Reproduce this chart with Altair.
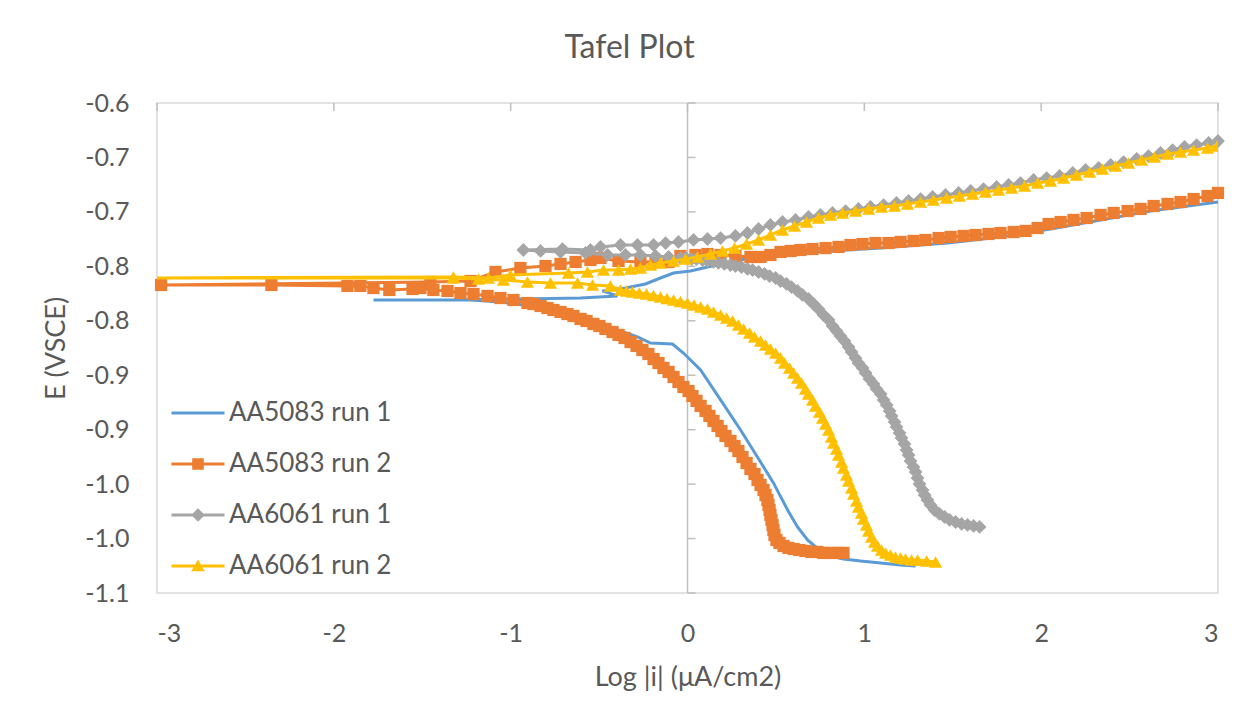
import altair as alt
import pandas as pd

FONT = "Lato"
TXT = "#595959"

SERIES = ["AA5083 run 1", "AA5083 run 2", "AA6061 run 1", "AA6061 run 2"]
COLORS = ["#5B9BD5", "#ED7D31", "#A5A5A5", "#FFC000"]

# ---- AA5083 run 1 (scan order: cathodic end -> Ecorr -> anodic end)
blue_x = [1.290, 1.205, 1.092, 0.979, 0.882, 0.809, 0.752, 0.679, 0.622, 0.566, 0.486, 0.413,
          0.300, 0.187, 0.074, -0.023, -0.085, -0.209, -0.283, -0.379, -0.492, -0.605, -0.718,
          -0.888, -1.058, -1.227, -1.510, -1.776,
          -1.340, -0.945, -0.605, -0.396, -0.481, -0.351, -0.238, -0.153, -0.079, 0.017, 0.187,
          0.356, 0.583, 0.809, 1.092, 1.471, 1.770, 2.053, 2.336, 2.619, 3.0]
blue_e = [-1.0252, -1.0243, -1.0224, -1.0206, -1.0187, -1.0160, -1.0114, -1.0013, -0.9893, -0.9737,
          -0.9489, -0.9297, -0.9003, -0.8727, -0.8452, -0.8296, -0.8213, -0.8204, -0.8149, -0.8094,
          -0.8039, -0.7974, -0.7928, -0.7864, -0.7827, -0.7809, -0.7809, -0.7809,
          -0.7809, -0.7800, -0.7791, -0.7772, -0.7726, -0.7699, -0.7662, -0.7607, -0.7561, -0.7543,
          -0.7478, -0.7423, -0.7387, -0.7359, -0.7332, -0.7286, -0.7230, -0.7157, -0.7074, -0.6992,
          -0.6909]

# ---- AA5083 run 2
orange_x = [0.882, 0.848, 0.809, 0.769, 0.735, 0.701, 0.667, 0.633, 0.600, 0.571, 0.543, 0.520,
            0.503, 0.492, 0.486, 0.481, 0.475, 0.469, 0.464, 0.458, 0.452, 0.441, 0.430, 0.413,
            0.396, 0.379, 0.356, 0.334, 0.311, 0.288, 0.266, 0.243, 0.215, 0.192, 0.170, 0.147,
            0.124, 0.102, 0.074, 0.051, 0.028, 0.006, -0.023, -0.051, -0.079, -0.107, -0.136,
            -0.164, -0.192, -0.221, -0.255, -0.288, -0.322, -0.356, -0.390, -0.424, -0.464,
            -0.498, -0.532, -0.571, -0.605, -0.645, -0.679, -0.718, -0.758, -0.792, -0.831,
            -0.871, -0.905, -0.984, -1.058, -1.131, -1.210, -1.284, -1.357, -1.437, -1.510,
            -1.555, -1.686, -1.776, -1.850, -1.923, -2.353, -2.977,
            -1.454, -1.227, -1.086, -0.945, -0.803, -0.718, -0.633, -0.549, -0.492, -0.390, -0.266,
            -0.181, -0.107, -0.040, 0.045, 0.113, 0.187, 0.271, 0.356, 0.413, 0.469, 0.526, 0.583,
            0.639, 0.707, 0.781, 0.854, 0.922, 0.990, 1.063, 1.137, 1.205, 1.278, 1.346, 1.420,
            1.488, 1.561, 1.629, 1.702, 1.770, 1.844, 1.912, 1.980, 2.042, 2.110, 2.183, 2.257,
            2.336, 2.410, 2.489, 2.562, 2.636, 2.715, 2.788, 2.862, 2.941, 3.0]
orange_e = [-1.0132, -1.0132, -1.0132, -1.0132, -1.0123, -1.0123, -1.0114, -1.0105, -1.0096,
            -1.0086, -1.0068, -1.0040, -1.0013, -0.9967, -0.9921, -0.9875, -0.9829, -0.9783,
            -0.9737, -0.9691, -0.9646, -0.9600, -0.9554, -0.9508, -0.9462, -0.9407, -0.9361,
            -0.9306, -0.9251, -0.9196, -0.9150, -0.9104, -0.9058, -0.9012, -0.8966, -0.8920,
            -0.8874, -0.8828, -0.8782, -0.8736, -0.8691, -0.8645, -0.8608, -0.8562, -0.8516,
            -0.8470, -0.8433, -0.8388, -0.8351, -0.8305, -0.8268, -0.8231, -0.8195, -0.8158,
            -0.8130, -0.8103, -0.8075, -0.8048, -0.8029, -0.8002, -0.7983, -0.7956, -0.7938,
            -0.7919, -0.7901, -0.7883, -0.7864, -0.7846, -0.7837, -0.7809, -0.7791, -0.7772,
            -0.7754, -0.7745, -0.7726, -0.7717, -0.7699, -0.7708, -0.7717, -0.7699, -0.7680,
            -0.7680, -0.7671, -0.7671,
            -0.7644, -0.7635, -0.7552, -0.7515, -0.7497, -0.7478, -0.7460, -0.7442, -0.7423,
            -0.7451, -0.7460, -0.7460, -0.7460, -0.7405, -0.7396, -0.7387, -0.7396, -0.7405,
            -0.7414, -0.7414, -0.7396, -0.7368, -0.7359, -0.7350, -0.7341, -0.7332, -0.7322,
            -0.7304, -0.7295, -0.7286, -0.7286, -0.7276, -0.7267, -0.7258, -0.7240, -0.7230,
            -0.7221, -0.7212, -0.7203, -0.7194, -0.7185, -0.7175, -0.7148, -0.7111, -0.7093,
            -0.7074, -0.7056, -0.7028, -0.7010, -0.6992, -0.6973, -0.6946, -0.6927, -0.6909,
            -0.6882, -0.6854, -0.6826]

# ---- AA6061 run 1
gray_x = [1.652, 1.618, 1.584, 1.550, 1.516, 1.482, 1.454, 1.425, 1.397, 1.374, 1.357, 1.341,
          1.329, 1.312, 1.301, 1.290, 1.278, 1.261, 1.250, 1.239, 1.227, 1.210, 1.199, 1.182,
          1.171, 1.154, 1.143, 1.126, 1.109, 1.092, 1.069, 1.052, 1.029, 1.007, 0.990, 0.967,
          0.950, 0.928, 0.911, 0.888, 0.865, 0.843, 0.820, 0.798, 0.769, 0.741, 0.713, 0.684,
          0.650, 0.622, 0.588, 0.560, 0.526, 0.498, 0.464, 0.436, 0.402, 0.368, 0.339, 0.305,
          0.271, 0.243, 0.209, 0.175, 0.147, 0.113, 0.085, 0.051, 0.023, -0.011, -0.040,
          -0.107, -0.181, -0.266, -0.351, -0.452, -0.577, -0.718, -0.831, -0.928,
          -0.707, -0.549, -0.492, -0.379, -0.283, -0.192, -0.124, -0.051, 0.034, 0.113, 0.187,
          0.271, 0.339, 0.402, 0.469, 0.537, 0.611, 0.684, 0.752, 0.820, 0.894, 0.967, 1.035,
          1.109, 1.182, 1.250, 1.318, 1.386, 1.459, 1.533, 1.601, 1.674, 1.748, 1.816, 1.883,
          1.957, 2.031, 2.104, 2.178, 2.251, 2.325, 2.393, 2.466, 2.540, 2.607, 2.675, 2.743,
          2.811, 2.879, 2.947, 3.0]
gray_e = [-0.9893, -0.9884, -0.9875, -0.9866, -0.9848, -0.9829, -0.9802, -0.9774, -0.9738,
          -0.9691, -0.9646, -0.9600, -0.9554, -0.9499, -0.9444, -0.9388, -0.9343, -0.9287,
          -0.9232, -0.9186, -0.9131, -0.9076, -0.9030, -0.8975, -0.8929, -0.8874, -0.8828,
          -0.8773, -0.8727, -0.8672, -0.8626, -0.8580, -0.8534, -0.8479, -0.8433, -0.8388,
          -0.8342, -0.8287, -0.8241, -0.8186, -0.8140, -0.8094, -0.8048, -0.7993, -0.7947,
          -0.7892, -0.7846, -0.7800, -0.7763, -0.7726, -0.7690, -0.7662, -0.7635, -0.7607,
          -0.7589, -0.7570, -0.7552, -0.7534, -0.7524, -0.7506, -0.7497, -0.7488, -0.7478,
          -0.7469, -0.7460, -0.7451, -0.7442, -0.7433, -0.7433, -0.7423, -0.7423,
          -0.7414, -0.7405, -0.7396, -0.7396, -0.7396, -0.7377, -0.7368, -0.7359, -0.7350,
          -0.7341, -0.7350, -0.7322, -0.7304, -0.7304, -0.7304, -0.7286, -0.7276, -0.7258,
          -0.7249, -0.7240, -0.7221, -0.7194, -0.7157, -0.7120, -0.7093, -0.7074, -0.7047,
          -0.7028, -0.7010, -0.6992, -0.6973, -0.6955, -0.6937, -0.6918, -0.6900, -0.6882,
          -0.6863, -0.6845, -0.6826, -0.6808, -0.6790, -0.6771, -0.6753, -0.6735, -0.6707,
          -0.6689, -0.6670, -0.6643, -0.6615, -0.6597, -0.6569, -0.6542, -0.6514, -0.6487,
          -0.6459, -0.6432, -0.6404, -0.6386, -0.6367, -0.6349]

# ---- AA6061 run 2 (its lowest-current point lies left of the axis minimum)
yellow_x = [1.403, 1.352, 1.301, 1.267, 1.233, 1.205, 1.176, 1.148, 1.120, 1.097, 1.075, 1.058,
            1.041, 1.024, 1.012, 0.995, 0.984, 0.967, 0.956, 0.939, 0.928, 0.911, 0.899, 0.882,
            0.871, 0.854, 0.843, 0.826, 0.814, 0.798, 0.781, 0.764, 0.747, 0.724, 0.707, 0.684,
            0.667, 0.645, 0.622, 0.600, 0.577, 0.549, 0.526, 0.498, 0.469, 0.441, 0.413, 0.379,
            0.351, 0.317, 0.288, 0.255, 0.221, 0.187, 0.147, 0.113, 0.074, 0.037, 0.000, -0.040,
            -0.079, -0.116, -0.153, -0.192, -0.232, -0.272, -0.311, -0.345, -0.379, -0.436,
            -0.537, -0.622, -0.775, -0.905, -1.041, -1.182, -1.324, -3.2,
            -1.324, -1.126, -1.001, -0.673, -0.566, -0.475, -0.390, -0.322, -0.266, -0.209,
            -0.153, -0.079, -0.011, 0.057, 0.130, 0.198, 0.266, 0.334, 0.402, 0.469, 0.537,
            0.605, 0.673, 0.741, 0.809, 0.877, 0.950, 1.024, 1.097, 1.171, 1.244, 1.318, 1.391,
            1.465, 1.538, 1.612, 1.686, 1.759, 1.833, 1.906, 1.980, 2.053, 2.127, 2.200, 2.274,
            2.347, 2.421, 2.494, 2.568, 2.641, 2.715, 2.788, 2.862, 2.941, 2.995]
yellow_e = [-1.0215, -1.0206, -1.0197, -1.0197, -1.0187, -1.0178, -1.0169, -1.0151, -1.0132,
            -1.0105, -1.0068, -1.0031, -0.9985, -0.9930, -0.9875, -0.9820, -0.9765, -0.9710,
            -0.9655, -0.9590, -0.9536, -0.9471, -0.9416, -0.9352, -0.9297, -0.9232, -0.9177,
            -0.9122, -0.9067, -0.9003, -0.8948, -0.8893, -0.8838, -0.8782, -0.8727, -0.8672,
            -0.8626, -0.8571, -0.8525, -0.8479, -0.8433, -0.8388, -0.8342, -0.8296, -0.8259,
            -0.8222, -0.8185, -0.8149, -0.8112, -0.8075, -0.8039, -0.8002, -0.7974, -0.7947,
            -0.7919, -0.7892, -0.7873, -0.7855, -0.7837, -0.7823, -0.7809, -0.7795, -0.7781,
            -0.7768, -0.7754, -0.7745, -0.7736, -0.7726, -0.7717, -0.7680,
            -0.7671, -0.7653, -0.7653, -0.7644, -0.7625, -0.7616, -0.7607, -0.7607,
            -0.7598, -0.7607, -0.7579, -0.7561, -0.7552, -0.7534, -0.7534, -0.7524, -0.7515,
            -0.7488, -0.7469, -0.7451, -0.7433, -0.7414, -0.7387, -0.7359, -0.7332, -0.7295,
            -0.7258, -0.7212, -0.7166, -0.7129, -0.7093, -0.7056, -0.7028, -0.7010, -0.6992,
            -0.6973, -0.6955, -0.6946, -0.6927, -0.6909, -0.6891, -0.6872, -0.6854, -0.6836,
            -0.6817, -0.6799, -0.6781, -0.6762, -0.6735, -0.6716, -0.6689, -0.6661, -0.6634,
            -0.6606, -0.6579, -0.6551, -0.6524, -0.6496, -0.6468, -0.6450, -0.6432, -0.6413,
            -0.6395]

X_TICKS = [-3, -2, -1, 0, 1, 2, 3]
Y_TICKS = [-0.6, -0.65, -0.7, -0.75, -0.8, -0.85, -0.9, -0.95, -1.0, -1.05]
Y_LABELS = ["-0.6", "-0.7", "-0.7", "-0.8", "-0.8", "-0.9", "-0.9", "-1.0", "-1.0", "-1.1"]

# legend glyphs: line with the series' marker
LEGEND_SHAPES = [
    "M-1.325,-0.075H1.325V0.075H-1.325Z",
    "M-1.325,-0.075H1.325V0.075H-1.325ZM-0.29,-0.29H0.29V0.29H-0.29Z",
    "M-1.325,-0.075H1.325V0.075H-1.325ZM0,-0.34L0.34,0L0,0.34L-0.34,0Z",
    "M-1.325,-0.075H1.325V0.075H-1.325ZM0,-0.33L0.34,0.26H-0.34Z",
]

rows = []
for name, xs_, es_ in zip(SERIES, [blue_x, orange_x, gray_x, yellow_x],
                          [blue_e, orange_e, gray_e, yellow_e]):
    for i, (a, b) in enumerate(zip(xs_, es_)):
        rows.append({"series": name, "idx": i, "x": a, "e": b})
df = pd.DataFrame(rows)

xscale = alt.Scale(domain=[-3, 3], nice=False, zero=False)
yscale = alt.Scale(domain=[-1.05, -0.6], nice=False, zero=False)
cscale = alt.Scale(domain=SERIES, range=COLORS)

label_arr = "[" + ",".join("'%s'" % s for s in Y_LABELS) + "]"

xaxis = alt.Axis(values=X_TICKS, labelExpr="'' + datum.value", ticks=False, tickSize=0,
                 domain=False, grid=False, labelFont=FONT, labelFontSize=25, labelColor=TXT,
                 labelPadding=28, title="Log |i| (μA/cm2)", titleFont=FONT, titleFontSize=27,
                 titleFontWeight="normal", titleColor=TXT, titlePadding=18)
yaxis = alt.Axis(values=Y_TICKS, labelExpr=label_arr + "[round((-0.6 - datum.value) / 0.05)]",
                 ticks=False, tickSize=0, domain=False, grid=False, labelFont=FONT,
                 labelFontSize=25, labelColor=TXT, labelPadding=28, title="E (VSCE)",
                 titleFont=FONT, titleFontSize=27, titleFontWeight="normal", titleColor=TXT,
                 titlePadding=14)

X = alt.X("x:Q", scale=xscale, axis=xaxis)
Y = alt.Y("e:Q", scale=yscale, axis=yaxis)

AX = "#BFBFBF"

zero_df = pd.DataFrame({"x": [0]})
zero_rule = alt.Chart(zero_df).mark_rule(color=AX, strokeWidth=1.5).encode(x=X)

ytick_df = pd.DataFrame({"x": [0] * len(Y_TICKS), "e": Y_TICKS})
yticks = alt.Chart(ytick_df).mark_tick(orient="horizontal", size=8, thickness=1.5, color=AX,
                                        opacity=1, xOffset=4).encode(x=X, y=Y)

xtick_df = pd.DataFrame({"x": X_TICKS, "e": [-0.6] * len(X_TICKS)})
xticks = alt.Chart(xtick_df).mark_tick(orient="vertical", size=8, thickness=1.5, color=AX,
                                        opacity=1, yOffset=4).encode(x=X, y=Y)


def line_layer(k, clip=False):
    return alt.Chart(df).transform_filter(alt.datum.series == SERIES[k]).mark_line(
        strokeWidth=3, color=COLORS[k], clip=clip).encode(x=X, y=Y, order=alt.Order("idx:Q"))


def point_layer(k, shape, size, clip=False):
    return alt.Chart(df).transform_filter(alt.datum.series == SERIES[k]).mark_point(
        filled=True, shape=shape, size=size, opacity=1, strokeWidth=0,
        color=COLORS[k], clip=clip).encode(x=X, y=Y)


legend_layer = alt.Chart(df).transform_filter("false").mark_point(
    filled=True, opacity=1, size=1600, strokeWidth=0).encode(
    x=X, y=Y,
    color=alt.Color("series:N", scale=cscale, legend=alt.Legend(title=None)),
    shape=alt.Shape("series:N", scale=alt.Scale(domain=SERIES, range=LEGEND_SHAPES),
                    legend=alt.Legend(title=None)))

chart = alt.layer(
    zero_rule, yticks, xticks,
    line_layer(0),
    line_layer(1), point_layer(1, "square", 150),
    line_layer(2), point_layer(2, "diamond", 190),
    line_layer(3, clip=True), point_layer(3, "triangle-up", 175, clip=True),
    legend_layer,
).properties(
    width=1061, height=490,
    autosize=alt.AutoSizeParams(type="none"),
    padding={"left": 149, "top": 95, "right": 27, "bottom": 121},
    title=alt.TitleParams("Tafel Plot", font=FONT, fontSize=32, fontWeight="normal",
                          color=TXT, anchor="middle", dx=-58, offset=1,
                          baseline="alphabetic"),
).configure_view(
    stroke="#D9D9D9", strokeWidth=1.5
).configure_legend(
    orient="none", legendX=21, legendY=290, padding=0, symbolSize=1600,
    symbolOpacity=1, symbolStrokeWidth=0, labelFont=FONT, labelFontSize=26,
    labelColor=TXT, labelOffset=11, rowPadding=18, labelLimit=400
)

chart.save("out.html", embed_options={"renderer": "svg", "actions": False})
